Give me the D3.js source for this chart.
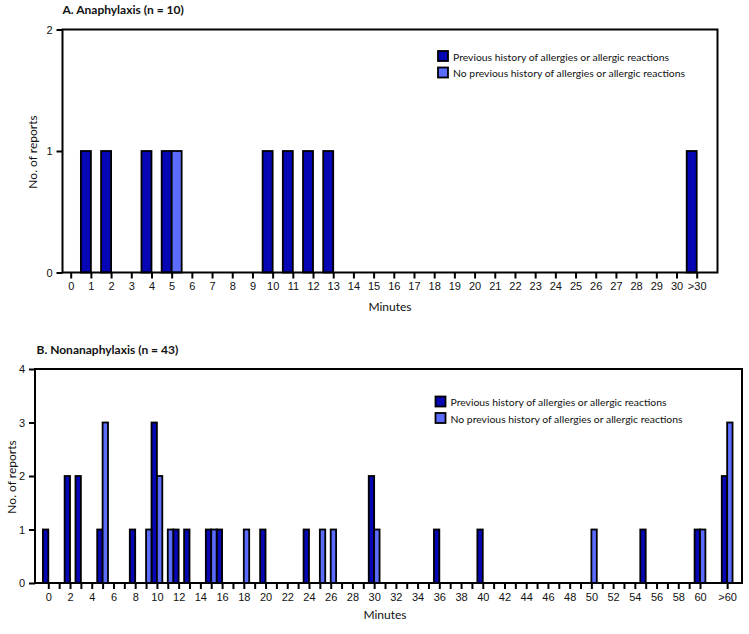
<!DOCTYPE html>
<html>
<head>
<meta charset="utf-8">
<script src="https://cdn.jsdelivr.net/npm/d3@7/dist/d3.min.js"></script>
<style>
  html, body { margin: 0; padding: 0; background: #fff; }
  svg { display: block; font-family: Lato, "Open Sans", sans-serif; }
  .tick text { font-size: 11px; fill: #111; }
  .tick line { stroke: #000; stroke-width: 2px; }
</style>
</head>
<body>
<svg id="chart" width="749" height="634"></svg>
<script>
// ---------- Data ----------
const seriesNames = ["Previous history of allergies or allergic reactions",
                     "No previous history of allergies or allergic reactions"];
const seriesColors = ["#0606b4", "#5b6cff"];

// Panel A: Anaphylaxis
const titleA = "A. Anaphylaxis (n = 10)";
const catsA = ["0","1","2","3","4","5","6","7","8","9","10","11","12","13","14","15",
               "16","17","18","19","20","21","22","23","24","25","26","27","28","29","30",">30"];
const prevA   = [0,1,1,0,1,1,0,0,0,0,1,1,1,1,0,0,0,0,0,0,0,0,0,0,0,0,0,0,0,0,0,1];
const noPrevA = [0,0,0,0,0,1,0,0,0,0,0,0,0,0,0,0,0,0,0,0,0,0,0,0,0,0,0,0,0,0,0,0];
const yTicksA = [0, 1, 2];

// Panel B: Nonanaphylaxis (sparse: minute category -> count)
const titleB = "B. Nonanaphylaxis (n = 43)";
const prevBCats   = ["0","2","3","5","8","10","12","13","15","16","20","24","30","36","40","55","60",">60"];
const prevBVals   = [ 1,  2,  2,  1,  1,  3,   1,   1,   1,   1,   1,   1,   2,   1,   1,   1,   1,   2 ];
const noPrevBCats = ["5","9","10","11","15","18","25","26","30","50","60",">60"];
const noPrevBVals = [ 3,  1,  2,   1,   1,   1,   1,   1,   1,   1,   1,   3 ];
const xTicksB = d3.range(0, 61).map(String).concat([">60"]);
const yTicksB = [0, 1, 2, 3, 4];

const xTitle = "Minutes";
const yTitle = "No. of reports";

// ---------- Drawing ----------
const svg = d3.select("#chart");

function panel(cfg) {
  const g = svg.append("g");
  const { left, right, top, bottom } = cfg.frame;

  const x = d3.scaleLinear().domain(cfg.xDomain).range(cfg.xRange);
  const y = d3.scaleLinear().domain([0, cfg.yMax]).range([bottom, top]);
  const pos = c => cfg.posOf(c);

  // bars
  const bw = cfg.barW;
  cfg.series.forEach((s, si) => {
    g.append("g").selectAll("rect")
      .data(s.cats.map((c, i) => ({ c, v: s.vals[i] })).filter(d => d.v > 0))
      .join("rect")
      .attr("x", d => si === 0 ? x(pos(d.c)) - bw : x(pos(d.c)))
      .attr("y", d => y(d.v))
      .attr("width", bw)
      .attr("height", d => y(0) - y(d.v))
      .attr("fill", seriesColors[si])
      .attr("stroke", "#000")
      .attr("stroke-width", 1.8);
  });

  // frame
  g.append("rect")
    .attr("x", left).attr("y", top)
    .attr("width", right - left).attr("height", bottom - top)
    .attr("fill", "none").attr("stroke", "#000").attr("stroke-width", 2);

  // x axis
  const xa = g.append("g").attr("transform", `translate(0,${bottom})`)
    .call(d3.axisBottom(x)
      .tickValues(cfg.xTicks.map(pos))
      .tickFormat((v, i) => cfg.xLabel(cfg.xTicks[i]))
      .tickSize(6).tickPadding(4).tickSizeOuter(0));
  xa.select(".domain").remove();

  // y axis
  const ya = g.append("g").attr("transform", `translate(${left},0)`)
    .call(d3.axisLeft(y).tickValues(cfg.yTicks).tickFormat(d3.format("d"))
      .tickSize(6).tickPadding(4).tickSizeOuter(0));
  ya.select(".domain").remove();

  // titles
  g.append("text").attr("x", cfg.titleX).attr("y", cfg.titleY)
    .attr("font-size", 12).attr("font-weight", "bold").attr("fill", "#111")
    .text(cfg.title);
  g.append("text").attr("x", cfg.xTitleX).attr("y", cfg.xTitleY)
    .attr("text-anchor", "middle").attr("font-size", 12).attr("fill", "#111")
    .text(xTitle);
  g.append("text")
    .attr("transform", `translate(${cfg.yTitleX},${cfg.yTitleY}) rotate(-90)`)
    .attr("text-anchor", "middle").attr("font-size", 12).attr("fill", "#111")
    .text(yTitle);

  // legend
  const lg = g.append("g").attr("transform", `translate(${cfg.legend[0]},${cfg.legend[1]})`);
  seriesNames.forEach((n, i) => {
    lg.append("rect").attr("x", 0).attr("y", i * 16.5)
      .attr("width", 10).attr("height", 10)
      .attr("fill", seriesColors[i]).attr("stroke", "#000").attr("stroke-width", 1.8);
    lg.append("text").attr("x", 15).attr("y", i * 16.5 + 9.5)
      .attr("font-size", 10.4).attr("fill", "#111").text(n);
  });
}

// Panel A
panel({
  frame: { left: 62.5, right: 717.5, top: 29.5, bottom: 272.5 },
  xDomain: [0, 31], xRange: [70.7, 696.7],
  posOf: c => catsA.indexOf(c),
  xTicks: catsA, xLabel: c => c,
  yMax: 2, yTicks: yTicksA,
  barW: 10,
  series: [{ cats: catsA, vals: prevA }, { cats: catsA, vals: noPrevA }],
  title: titleA, titleX: 62.5, titleY: 14,
  xTitleX: 390, xTitleY: 311,
  yTitleX: 37, yTitleY: 152,
  legend: [438, 51]
});

// Panel B
panel({
  frame: { left: 35, right: 742, top: 369, bottom: 583 },
  xDomain: [0, 60], xRange: [48.3, 700],
  posOf: c => c === ">60" ? 62.5 : +c,
  xTicks: xTicksB, xLabel: c => (c === ">60" || (+c) % 2 === 0) ? c : "",
  yMax: 4, yTicks: yTicksB,
  barW: 5.4,
  series: [{ cats: prevBCats, vals: prevBVals }, { cats: noPrevBCats, vals: noPrevBVals }],
  title: titleB, titleX: 36.5, titleY: 353.5,
  xTitleX: 385, xTitleY: 619,
  yTitleX: 16, yTitleY: 477,
  legend: [435.5, 396.5]
});
</script>
</body>
</html>
